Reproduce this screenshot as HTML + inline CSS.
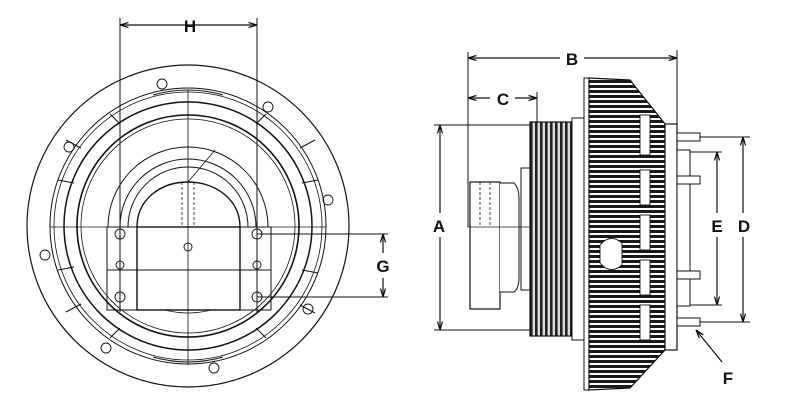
<!DOCTYPE html>
<html><head><meta charset="utf-8"><style>
html,body{margin:0;padding:0;background:#fff;}
svg{display:block;}
text{font-family:"Liberation Sans",sans-serif;font-weight:bold;font-size:17px;fill:#111;}
</style></head><body>
<svg width="800" height="414" viewBox="0 0 800 414" xmlns="http://www.w3.org/2000/svg">
<defs>
<pattern id="fin" width="6" height="5" patternUnits="userSpaceOnUse">
<rect width="6" height="5" fill="#fff"/><rect y="0" width="6" height="3" fill="#1a1a1a"/>
</pattern>
<pattern id="groove" width="5" height="6" patternUnits="userSpaceOnUse">
<rect width="5" height="6" fill="#ddd"/><rect width="2.6" height="6" fill="#222"/>
</pattern>
<marker id="ar" viewBox="0 0 10 10" refX="10" refY="5" markerWidth="7" markerHeight="7" orient="auto-start-reverse"><path d="M0,2 L10,5 L0,8" fill="none" stroke="#111" stroke-width="1.5"/></marker>
</defs>
<g fill="none" stroke="#111" stroke-width="1.2">
<!-- LEFT VIEW -->
<circle cx="188" cy="226" r="161"/>
<circle cx="188" cy="226" r="138" stroke-width="1"/>
<circle cx="188" cy="226" r="134" stroke-width="0.8"/>
<circle cx="188" cy="226" r="124" stroke-width="1.5"/>
<circle cx="188" cy="226" r="111" stroke-width="1.6"/>
<circle cx="188" cy="226" r="107" stroke-width="0.8"/>
<g stroke-width="1" >
<path d="M153,95 q35,-10 70,0 M153,357 q35,10 70,0"/>
<path d="M66,140 l15,8 M58,180 l16,3 M58,270 l16,-3 M66,312 l15,-8 M300,148 l15,-8 M302,183 l16,-3 M302,270 l16,3 M300,305 l15,8 M110,114 l10,10 M266,114 l-10,10 M110,338 l10,-10 M266,338 l-10,-10"/>
</g>
<g stroke-width="0.9">
<circle cx="162" cy="84" r="5"/><circle cx="268" cy="107" r="5"/><circle cx="69" cy="147" r="5"/><circle cx="328" cy="200" r="5"/><circle cx="45" cy="255" r="5"/><circle cx="308" cy="309" r="5"/><circle cx="106" cy="348" r="5"/><circle cx="214" cy="368" r="5"/>
</g>
<line x1="50" y1="227" x2="326" y2="227" stroke-width="0.8"/>
<line x1="188" y1="90" x2="188" y2="365" stroke-width="0.8"/>
<line x1="120" y1="18" x2="120" y2="312" stroke-width="1"/>
<line x1="257" y1="18" x2="257" y2="312" stroke-width="1"/>
<line x1="120" y1="25" x2="257" y2="25" marker-start="url(#ar)" marker-end="url(#ar)"/>
<path d="M108,227 A80,80 0 0 1 268,227" stroke-width="1"/>
<path d="M120,227 A68,68 0 0 1 256,227" stroke-width="1"/>
<path d="M128,227 A60,60 0 0 1 248,227" stroke-width="1"/>
<path d="M137,227 C137,200 160,182 188,182 C216,182 240,200 240,227" stroke-width="1.4"/>
<rect x="107" y="227" width="164" height="43" stroke-width="1"/>
<rect x="137" y="227" width="103" height="83" stroke-width="1.4"/>
<path d="M107,270 v40 h30 M240,310 h31 v-40" stroke-width="1"/>
<path d="M165,310 q23,6 46,0" stroke-width="0.8"/>
<line x1="182" y1="182" x2="182" y2="227" stroke-dasharray="3,2" stroke-width="0.8"/>
<line x1="194" y1="182" x2="194" y2="227" stroke-dasharray="3,2" stroke-width="0.8"/>
<line x1="188" y1="182" x2="215" y2="150" stroke-width="0.8"/>
<circle cx="188" cy="247" r="4" stroke-width="0.9"/>
<g stroke-width="0.9">
<circle cx="120" cy="234" r="5"/><circle cx="257" cy="234" r="5"/><circle cx="120" cy="297" r="5"/><circle cx="257" cy="297" r="5"/><circle cx="120" cy="265" r="4"/><circle cx="257" cy="265" r="4"/>
</g>
<line x1="257" y1="234" x2="388" y2="234" stroke-width="1"/>
<line x1="257" y1="297" x2="388" y2="297" stroke-width="1"/>
<line x1="383" y1="234" x2="383" y2="253" marker-start="url(#ar)"/>
<line x1="383" y1="278" x2="383" y2="297" marker-end="url(#ar)"/>

<!-- RIGHT VIEW -->
<line x1="468" y1="52" x2="468" y2="227" stroke-width="1"/>
<line x1="537" y1="92" x2="537" y2="123" stroke-width="1"/>
<line x1="677" y1="50" x2="677" y2="124" stroke-width="1"/>
<line x1="468" y1="58" x2="560" y2="58" marker-start="url(#ar)"/>
<line x1="584" y1="58" x2="677" y2="58" marker-end="url(#ar)"/>
<line x1="468" y1="98" x2="490" y2="98" marker-start="url(#ar)"/>
<line x1="515" y1="98" x2="537" y2="98" marker-end="url(#ar)"/>
<line x1="434" y1="125" x2="532" y2="125" stroke-width="1"/>
<line x1="434" y1="330" x2="532" y2="330" stroke-width="1"/>
<line x1="440" y1="125" x2="440" y2="213" marker-start="url(#ar)"/>
<line x1="440" y1="237" x2="440" y2="330" marker-end="url(#ar)"/>
<rect x="470" y="182" width="30" height="127" fill="#fff" stroke-width="1.2"/>
<path d="M500,183 h14 q5,5 5,15 v80 q0,10 -5,14 h-14" fill="#fff" stroke-width="1"/>
<rect x="521" y="168" width="9" height="122" fill="#fff" stroke-width="1"/>
<line x1="480" y1="182" x2="480" y2="225" stroke-dasharray="3,2" stroke-width="0.8"/>
<line x1="490" y1="182" x2="490" y2="225" stroke-dasharray="3,2" stroke-width="0.8"/>
<line x1="468" y1="227" x2="690" y2="227" stroke-width="0.8"/>
<rect x="530" y="122" width="42" height="214" fill="url(#groove)" stroke-width="1.2"/>
<rect x="572" y="118" width="16" height="222" fill="#fff" stroke-width="1"/>
<rect x="584" y="78" width="5" height="312" fill="#fff" stroke-width="1"/>
<path d="M589,78 L630,80 L665,124 L665,350 L630,388 L589,390 Z" fill="url(#fin)" stroke-width="1.2"/>
<g fill="#fff" stroke-width="0.9">
<rect x="640" y="115" width="10" height="40"/><rect x="640" y="170" width="10" height="35"/><rect x="640" y="215" width="10" height="35"/><rect x="640" y="260" width="10" height="35"/><rect x="640" y="305" width="10" height="35"/>
<path d="M600,245 q10,-12 22,-2 v22 q-12,10 -22,-2 z"/>
</g>
<rect x="665" y="124" width="12" height="226" fill="#fff" stroke-width="1.2"/>
<rect x="677" y="150" width="13" height="156" fill="#fff" stroke-width="1"/>
<g fill="#fff" stroke-width="1">
<rect x="677" y="133" width="23" height="8"/><rect x="677" y="176" width="23" height="8"/><rect x="677" y="271" width="23" height="8"/><rect x="677" y="318" width="23" height="8"/>
</g>
<line x1="700" y1="137" x2="750" y2="137" stroke-width="1"/>
<line x1="700" y1="322" x2="750" y2="322" stroke-width="1"/>
<line x1="690" y1="152" x2="722" y2="152" stroke-width="1"/>
<line x1="690" y1="305" x2="722" y2="305" stroke-width="1"/>
<line x1="743" y1="137" x2="743" y2="213" marker-start="url(#ar)"/>
<line x1="743" y1="237" x2="743" y2="322" marker-end="url(#ar)"/>
<line x1="717" y1="152" x2="717" y2="213" marker-start="url(#ar)"/>
<line x1="717" y1="237" x2="717" y2="305" marker-end="url(#ar)"/>
<line x1="722" y1="362" x2="696" y2="330" marker-end="url(#ar)"/>
</g>
<text x="190" y="32" text-anchor="middle">H</text>
<text x="383" y="272" text-anchor="middle">G</text>
<text x="572" y="65" text-anchor="middle">B</text>
<text x="503" y="105" text-anchor="middle">C</text>
<text x="439" y="232" text-anchor="middle">A</text>
<text x="717" y="232" text-anchor="middle">E</text>
<text x="744" y="232" text-anchor="middle">D</text>
<text x="728" y="384" text-anchor="middle">F</text>
</svg>
</body></html>
